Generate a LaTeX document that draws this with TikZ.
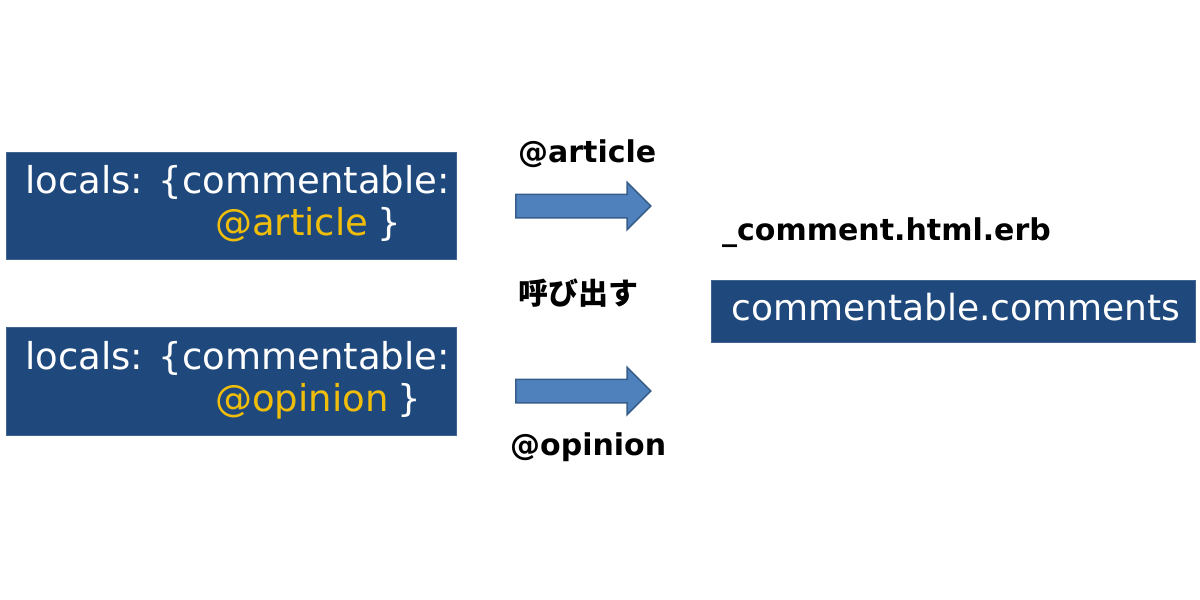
\documentclass[tikz,border=0pt]{standalone}
\usepackage{fontspec}
\usepackage{tikz}
\usetikzlibrary{shapes.arrows, positioning}
\setmainfont{DejaVu Sans}
\newfontfamily\jpfont{Noto Sans CJK JP}
\definecolor{boxcolor}{RGB}{31, 73, 125}
\definecolor{varcolor}{RGB}{240, 190, 10}
\definecolor{arrowcolor}{RGB}{79, 129, 189}
\definecolor{arrowedge}{RGB}{56, 93, 138}

\begin{document}
\begin{tikzpicture}[
    x=1pt, y=-1pt,
    codebox/.style={draw=boxcolor!85!white, fill=boxcolor, anchor=north west, inner sep=0pt},
    codetext/.style={anchor=base west, inner sep=0pt, text=white, font=\fontsize{37}{44}\selectfont},
    label/.style={anchor=base west, inner sep=0pt, font=\fontsize{30}{36}\selectfont\bfseries},
    callarrow/.style={single arrow, draw=arrowedge, line width=1.5pt, fill=arrowcolor, minimum height=135pt, single arrow head extend=12pt, single arrow head indent=0pt, inner xsep=0pt, inner ysep=11pt, anchor=west}
]
    \useasboundingbox (0, 0) rectangle (1200, 600);

    % Callers - left side
    \node[codebox, minimum width=450pt, minimum height=107pt] (article) at (6, 152) {};
    \node[codetext] (articlel1) at (25, 193) {locals: \{commentable:};
    \node[codetext] (articlel2) at (215, 235) {\textcolor{varcolor}{@article}\hspace{9pt}\}};

    \node[codebox, minimum width=450pt, minimum height=108pt] (opinion) at (6, 327) {};
    \node[codetext] (opinionl1) at (25, 369) {locals: \{commentable:};
    \node[codetext] (opinionl2) at (215, 411) {\textcolor{varcolor}{@opinion}\hspace{9pt}\}};

    % Arrows - middle
    \node[callarrow] (arrowa) at (515, 206) {};
    \node[callarrow] (arrowo) at (515, 391) {};
    \node[label] (lbarticle) at (518, 162) {@article};
    \node[label] (lbcall) at (518, 304) {\jpfont 呼び出す};
    \node[label] (lbopinion) at (510, 455) {@opinion};

    % Partial - right side
    \node[label] (partial) at (722, 240) {\_comment.html.erb};
    \node[codebox, minimum width=484pt, minimum height=62pt] (partbox) at (711, 280) {};
    \node[codetext, font=\fontsize{36}{44}\selectfont] (parttext) at (731, 320) {commentable.comments};

\end{tikzpicture}
\end{document}
